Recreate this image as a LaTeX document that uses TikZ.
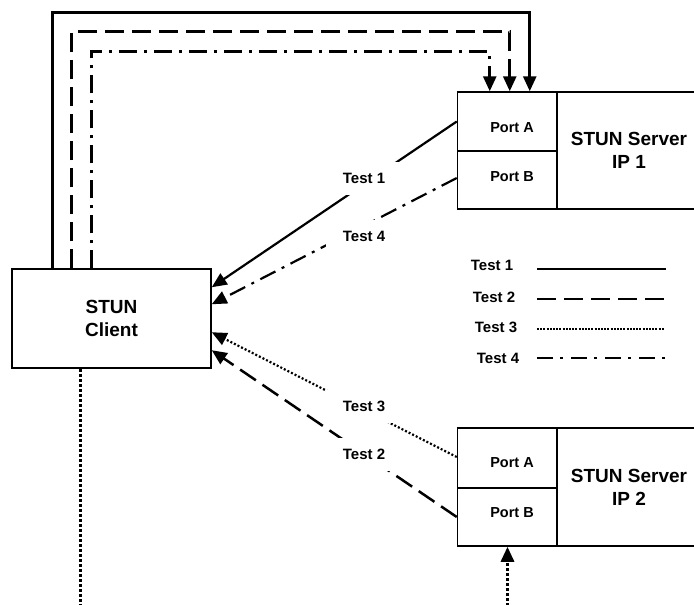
\documentclass[tikz,border=0pt]{standalone}
\usepackage{fontspec}
\setmainfont{Liberation Sans}
\usetikzlibrary{arrows.meta,calc}
\begin{document}
\begin{tikzpicture}[x=1pt,y=-1pt,
  box/.style={draw,line width=1.5pt,inner sep=0pt,anchor=center},
  big/.style={font=\fontsize{19}{23}\selectfont\bfseries,align=center},
  port/.style={font=\fontsize{14.5}{17}\selectfont\bfseries,inner sep=0pt},
  lbl/.style={font=\fontsize{15}{18}\selectfont\bfseries,fill=white,inner sep=0pt,minimum width=76pt,minimum height=33pt},
  leg/.style={font=\fontsize{15}{18}\selectfont\bfseries,inner sep=0pt},
  tip/.style={-{Triangle[length=15pt,width=13pt]}},
  tsolid/.style={line width=2.5pt},
  tdash/.style={line width=2.5pt,dash pattern=on 19pt off 8pt},
  tdot/.style={line width=2.2pt,dash pattern=on 2pt off 2pt},
  tdd/.style={line width=2.5pt,dash pattern=on 17pt off 7pt on 3pt off 7pt},
  vdot/.style={line width=3pt,dash pattern=on 3pt off 2pt},
]
\fill[white] (0,0) rectangle (694,605);
\useasboundingbox (0,0) rectangle (694,605);

% client
\node[box,big,minimum width=199pt,minimum height=99pt] (client) at (111.5,318.5) {STUN\\Client};

% server 1
\node[box,minimum width=100pt,minimum height=59pt] (pA1) at (507.5,121.5) {};
\node[box,minimum width=100pt,minimum height=58pt] (pB1) at (507.5,180) {};
\node[box,big,minimum width=144pt,minimum height=117pt] (srv1) at (629,150.5) {STUN Server\\IP 1};
\node[port] (tA1) at (512,128) {Port A};
\node[port] (tB1) at (512,177) {Port B};

% server 2
\node[box,minimum width=100pt,minimum height=60pt] (pA2) at (507.5,458) {};
\node[box,minimum width=100pt,minimum height=58pt] (pB2) at (507.5,517) {};
\node[box,big,minimum width=144pt,minimum height=118pt] (srv2) at (629,487) {STUN Server\\IP 2};
\node[port] (tA2) at (512,463) {Port A};
\node[port] (tB2) at (512,513) {Port B};

% top loops
\draw[tsolid,line width=2.7pt,tip] ($(client.north west)+(41,0)$) |- ($(pA1.north west)+(73,-79)$) -- ($(pA1.north west)+(73,0)$);
\draw[tdash,line width=2.7pt,tip] ($(client.north west)+(60,0)$) |- ($(pA1.north west)+(53,-59.5)$) -- ($(pA1.north west)+(53,0)$);
\draw[tdd,line width=2.7pt,dash pattern=on 18pt off 7pt on 3pt off 7pt,tip] ($(client.north west)+(80,0)$) |- ($(pA1.north west)+(33,-40)$) -- ($(pA1.north west)+(33,0)$);

% bottom dotted
\coordinate (cbot) at (80,606);
\coordinate (sbot) at (507.5,606);
\draw[vdot] ($(client.south west)+(68.75,0)$) -- (cbot);
\draw[vdot,tip] (sbot) -- (pB2.south);

% diagonals
\draw[tsolid,line width=2.2pt,tip] (pA1.west) -- ($(client.north east)+(0,19)$);
\draw[tdd,line width=2.2pt,tip] ($(pB1.west)+(0,-2)$) -- ($(client.north east)+(0,36)$);
\draw[tdot,tip] ($(pA2.west)+(0,-1)$) -- ($(client.north east)+(0,64)$);
\draw[tdash,tip] (pB2.west) -- ($(client.north east)+(0,82)$);

% labels
\node[lbl] (L1) at (364,178) {Test 1};
\node[lbl] (L4) at (364,236) {Test 4};
\node[lbl] (L3) at (364,406) {Test 3};
\node[lbl] (L2) at (364,454) {Test 2};

% legend
\node[leg] (g1) at (492,265) {Test 1};
\node[leg] (g2) at (494,297) {Test 2};
\node[leg] (g3) at (496,327) {Test 3};
\node[leg] (g4) at (498,358) {Test 4};
\coordinate (g1a) at (537,269); \coordinate (g1b) at (666,269);
\coordinate (g2a) at (537,299); \coordinate (g2b) at (666,299);
\coordinate (g3a) at (537,329); \coordinate (g3b) at (664,329);
\coordinate (g4a) at (537,358); \coordinate (g4b) at (666,358);
\draw[tsolid,line width=2.7pt] (g1a) -- (g1b);
\draw[tdash,line width=2.7pt] (g2a) -- (g2b);
\draw[tdot,dash pattern=on 2pt off 1.2pt] (g3a) -- (g3b);
\draw[tdd,line width=2.7pt,dash pattern=on 16pt off 7pt on 3pt off 8pt] (g4a) -- (g4b);
\end{tikzpicture}
\end{document}
